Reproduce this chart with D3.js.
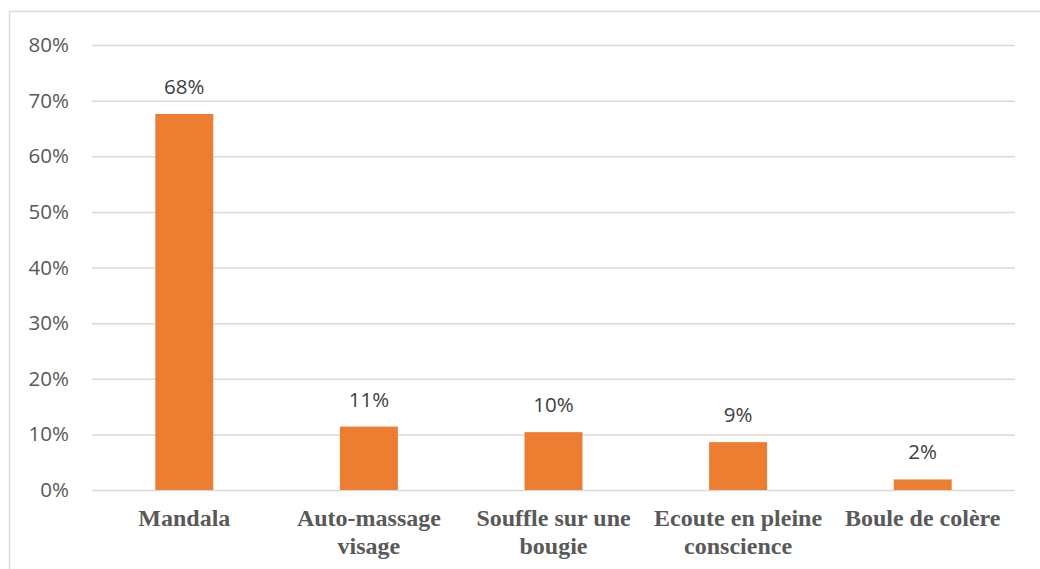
<!DOCTYPE html>
<html>
<head>
<meta charset="utf-8">
<script src="https://cdn.jsdelivr.net/npm/d3@7/dist/d3.min.js"></script>
<style>
  html, body { margin: 0; padding: 0; background: #fff; }
  svg { display: block; }
</style>
</head>
<body>
<svg id="chart" width="1040" height="569"></svg>
<script>
// Share of children choosing each relaxation activity
const categories = ["Mandala", "Auto-massage visage", "Souffle sur une bougie", "Ecoute en pleine conscience", "Boule de colère"];
const values = [0.676, 0.114, 0.104, 0.086, 0.019];
const yTicks = [0, 0.1, 0.2, 0.3, 0.4, 0.5, 0.6, 0.7, 0.8];

const svg = d3.select("#chart");
const W = 1040, H = 569;
const margin = { left: 92, right: 25, top: 45, bottom: 79 };
const plotW = W - margin.left - margin.right;
const plotH = H - margin.top - margin.bottom;

const numFont = "'Open Sans', 'Noto Sans', sans-serif";
const catFont = "'Liberation Serif', 'Times New Roman', serif";
const textColor = "#595959";

// chart frame
svg.append("rect")
  .attr("x", 9.5).attr("y", 11.5)
  .attr("width", 1100).attr("height", 600)
  .attr("fill", "none").attr("stroke", "#d9d9d9").attr("stroke-width", 1.5);

const g = svg.append("g").attr("transform", `translate(${margin.left},${margin.top})`);

const x = d3.scaleBand().domain(categories).range([0, plotW]).paddingInner(0.686).paddingOuter(0.343);
const y = d3.scaleLinear().domain([0, 0.8]).range([plotH, 0]);

// horizontal gridlines with percentage labels
const yAxis = d3.axisLeft(y).tickValues(yTicks).tickFormat(d3.format(".0%")).tickSize(-plotW).tickPadding(23);
const ya = g.append("g").call(yAxis);
ya.select(".domain").remove();
ya.selectAll(".tick line").attr("stroke", "#d9d9d9").attr("stroke-width", 1.5);
ya.selectAll(".tick text")
  .attr("font-family", numFont).attr("font-size", 20.5).attr("fill", textColor);

// bars
g.selectAll("rect.bar").data(values).join("rect")
  .attr("class", "bar")
  .attr("x", (d, i) => x(categories[i]))
  .attr("y", d => y(d))
  .attr("width", x.bandwidth())
  .attr("height", d => plotH - y(d))
  .attr("fill", "#ED7D31");

// value labels
g.selectAll("text.val").data(values).join("text")
  .attr("class", "val")
  .attr("x", (d, i) => x(categories[i]) + x.bandwidth() / 2)
  .attr("y", d => y(d) - 20)
  .attr("text-anchor", "middle")
  .attr("font-family", numFont).attr("font-size", 20.5).attr("fill", "#404040")
  .text(d3.format(".0%"));

// category labels, wrapped to the band step
const xAxis = d3.axisBottom(x).tickSize(0).tickPadding(0);
const xa = g.append("g").attr("transform", `translate(0,${plotH})`).call(xAxis);
xa.select(".domain").remove();
const maxW = x.step() - 6;
xa.selectAll(".tick text")
  .attr("font-family", catFont).attr("font-size", 24).attr("font-weight", "bold")
  .attr("fill", textColor)
  .attr("dy", null).attr("y", 36)
  .each(function(label) {
    const t = d3.select(this);
    const words = label.split(" ");
    t.text(null);
    let line = [];
    let lineNo = 0;
    let tspan = t.append("tspan").attr("x", 0).attr("y", 36);
    for (const w of words) {
      line.push(w);
      tspan.text(line.join(" "));
      if (tspan.node().getComputedTextLength() > maxW && line.length > 1) {
        line.pop();
        tspan.text(line.join(" "));
        line = [w];
        lineNo++;
        tspan = t.append("tspan").attr("x", 0).attr("y", 36 + lineNo * 28).text(w);
      }
    }
  });
</script>
</body>
</html>
